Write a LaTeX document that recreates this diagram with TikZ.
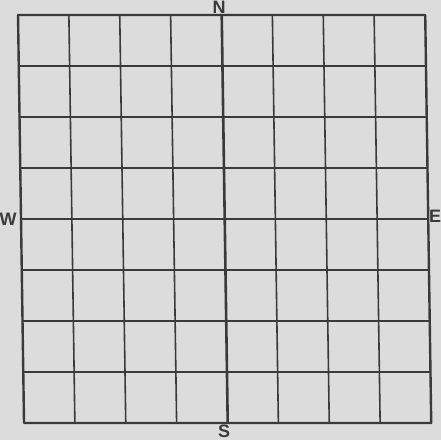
\documentclass[tikz,border=0pt]{standalone}
\usepackage{fontspec}
\setmainfont{Liberation Sans}
\definecolor{paper}{HTML}{DCDCDC}
\definecolor{ink}{HTML}{3A3A3A}
\begin{document}
\begin{tikzpicture}[x=1pt,y=-1pt,
  gridline/.style={draw=ink,line width=1.6pt},
  axisline/.style={draw=ink,line width=2.6pt},
  borderline/.style={draw=ink,line width=2.4pt,line cap=round,line join=round},
  compass/.style={text=ink,font=\bfseries\fontsize{18}{18}\selectfont,inner sep=0pt}]
\fill[paper] (0,0) rectangle (441,440);
\useasboundingbox (0,0) rectangle (441,440);
% slanted grid: x shifts right by 6px going down over the 408px height
\begin{scope}[cm={1,0,-0.0147,1,(0,0)}]
  \foreach \i in {1,2,3,5,6,7} {
    \draw[gridline] ({18+50.875*\i-0.22},15) -- ({18+50.875*\i-0.22},423);
  }
  \foreach \j in {1,2,3,5,6,7} {
    \draw[gridline] (17.8,{15+51*\j}) -- (425,{15+51*\j});
  }
  \draw[axisline] (221.5,15) -- (221.5,423);
  \draw[axisline] (17.8,219) -- (425,219);
  \draw[borderline] (17.8,15) rectangle (425,423);
\end{scope}
\node[compass] (north) at (219,7) {N};
\node[compass] (south) at (224,431) {S};
\node[compass] (west) at (8,219) {W};
\node[compass] (east) at (435,216) {E};
\end{tikzpicture}
\end{document}
